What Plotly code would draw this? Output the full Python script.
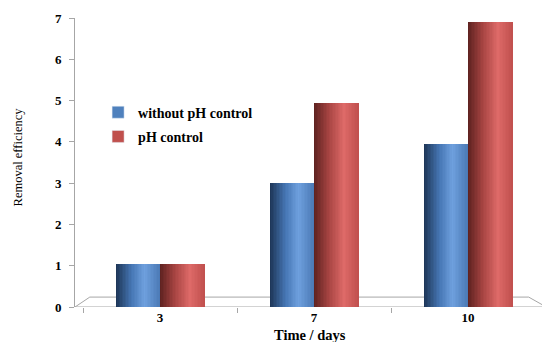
import plotly.graph_objects as go

# Data
days = ["3", "7", "10"]
without_ph = [1.05, 3.0, 3.95]
with_ph = [1.05, 4.95, 6.9]
series_names = ["without pH control", "pH control"]

# Colour stops (position across the bar, colour) for the cylinder shading
blue_stops = [(0.0, (28, 52, 84)), (0.35, (70, 118, 180)), (0.65, (110, 160, 222)),
              (1.0, (74, 120, 180))]
red_stops = [(0.0, (92, 33, 31)), (0.35, (170, 70, 68)), (0.68, (222, 106, 104)),
             (1.0, (192, 80, 78))]


def ramp(stops, n):
    cols = []
    for i in range(n):
        t = (i + 0.5) / n
        for (p0, c0), (p1, c1) in zip(stops[:-1], stops[1:]):
            if p0 <= t <= p1:
                f = (t - p0) / (p1 - p0)
                rgb = [round(a + (b - a) * f) for a, b in zip(c0, c1)]
                cols.append("rgb(%d,%d,%d)" % tuple(rgb))
                break
    return cols


BAR_W = 0.286          # width of one cylinder in category units
N = 30
strip = BAR_W / N

fig = go.Figure()

for s, (vals, stops, name) in enumerate(zip([without_ph, with_ph],
                                            [blue_stops, red_stops], series_names)):
    left = -BAR_W if s == 0 else 0.0
    for k, col in enumerate(ramp(stops, N)):
        fig.add_trace(go.Bar(
            x=days, y=vals,
            width=strip * 1.6,
            offset=left + k * strip,
            marker=dict(color=col, line=dict(width=0)),
            name=name,
            legendgroup=name,
            showlegend=False,
            hoverinfo="skip",
        ))
    # legend entry for the series
    fig.add_trace(go.Bar(
        x=[None], y=[None], name=name, legendgroup=name,
        marker=dict(color="#4f81bd" if s == 0 else "#c0504d"),
        showlegend=True,
    ))

serif = "Liberation Serif"

# 3-D style floor under the bars
fig.add_shape(type="path",
              path="M 0 0 L 0.032 0.24 L 0.982 0.24 L 1.02 0 Z",
              xref="paper", yref="y",
              line=dict(color="#a6a6a6", width=1), fillcolor="rgba(0,0,0,0)",
              layer="below")

fig.update_layout(
    width=542, height=342,
    margin=dict(l=75, r=5, t=18, b=35),
    paper_bgcolor="white", plot_bgcolor="white",
    barmode="overlay",
    bargap=0,
    font=dict(family=serif, color="#000000"),
    showlegend=True,
    legend=dict(
        x=0.05, y=0.728, xanchor="left", yanchor="top",
        bgcolor="rgba(0,0,0,0)",
        font=dict(family=serif, size=14, weight="bold"),
        traceorder="grouped", tracegroupgap=3,
        itemwidth=30,
    ),
    xaxis=dict(
        type="category",
        range=[-0.552, 2.448],
        showgrid=False, zeroline=False, showline=False,
        ticks="outside", tickson="boundaries", ticklen=5,
        tickcolor="#a6a6a6",
        ticklabelstandoff=1,
        tickfont=dict(family=serif, size=13, weight="bold"),
    ),
    yaxis=dict(
        range=[0, 7], dtick=1,
        showgrid=False, zeroline=False,
        showline=True, linecolor="#a6a6a6", linewidth=1,
        ticks="outside", ticklen=5, tickcolor="#a6a6a6",
        ticklabelstandoff=5,
        tickfont=dict(family=serif, size=13, weight="bold"),
    ),
    annotations=[
        dict(text="Removal efficiency", x=-0.124, y=0.52, xref="paper", yref="paper",
             xanchor="center", yanchor="middle", textangle=-90, showarrow=False,
             font=dict(family=serif, size=12.5)),
        dict(text="Time / days", x=0.508, y=-0.064, xref="paper", yref="paper",
             xanchor="center", yanchor="top", showarrow=False,
             font=dict(family=serif, size=14.5, weight="bold")),
    ],
)

fig.write_html("out.html")
